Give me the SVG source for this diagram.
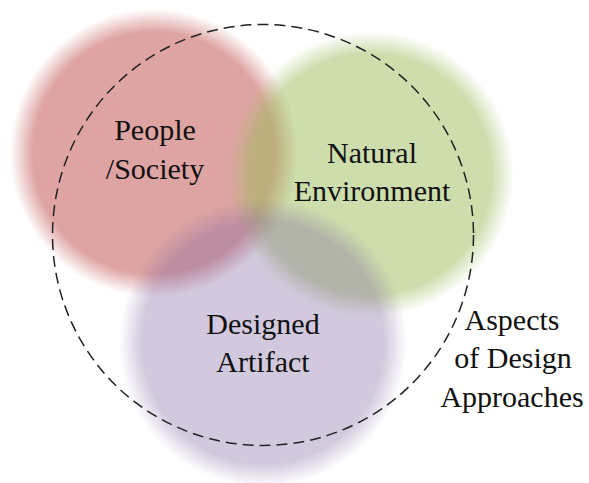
<svg xmlns="http://www.w3.org/2000/svg" width="589" height="483" viewBox="0 0 589 483">
<defs>
<radialGradient id="gRed"><stop offset="0" stop-color="#C0504D" stop-opacity="0.52"/><stop offset="0.84" stop-color="#C0504D" stop-opacity="0.52"/><stop offset="0.92" stop-color="#C0504D" stop-opacity="0.26"/><stop offset="1" stop-color="#C0504D" stop-opacity="0"/></radialGradient>
<radialGradient id="gGreen"><stop offset="0" stop-color="#9BBB59" stop-opacity="0.5"/><stop offset="0.84" stop-color="#9BBB59" stop-opacity="0.5"/><stop offset="0.92" stop-color="#9BBB59" stop-opacity="0.25"/><stop offset="1" stop-color="#9BBB59" stop-opacity="0"/></radialGradient>
<radialGradient id="gPurple"><stop offset="0" stop-color="#8064A2" stop-opacity="0.35"/><stop offset="0.84" stop-color="#8064A2" stop-opacity="0.35"/><stop offset="0.92" stop-color="#8064A2" stop-opacity="0.175"/><stop offset="1" stop-color="#8064A2" stop-opacity="0"/></radialGradient>
</defs>
<rect width="589" height="483" fill="#fff"/>
<g id="people-society">
<circle cx="154" cy="153" r="144" fill="url(#gRed)"/>
</g>
<g id="natural-environment">
<circle cx="371" cy="174" r="143" fill="url(#gGreen)"/>
</g>
<g id="designed-artifact">
<circle cx="263" cy="343" r="144" fill="url(#gPurple)"/>
</g>
<g id="aspects">
<circle cx="263" cy="235" r="210.5" fill="none" stroke="#222" stroke-width="1.5" stroke-dasharray="11 6"/>
</g>
<g id="labels" font-size="30" fill="#111" text-anchor="middle">
<text x="155" y="140" font-family="Liberation Serif">People</text>
<text x="155" y="179" font-family="Liberation Serif">/Society</text>
<text x="372" y="163" font-family="Liberation Serif">Natural</text>
<text x="372" y="201" font-family="Liberation Serif">Environment</text>
<text x="263" y="334" font-family="Liberation Serif">Designed</text>
<text x="263" y="372" font-family="Liberation Serif">Artifact</text>
<text x="512" y="330" font-family="Liberation Serif">Aspects</text>
<text x="513" y="368" font-family="Liberation Serif">of Design</text>
<text x="512" y="407" font-family="Liberation Serif">Approaches</text>
</g>
<g id="connectors"></g>
</svg>
